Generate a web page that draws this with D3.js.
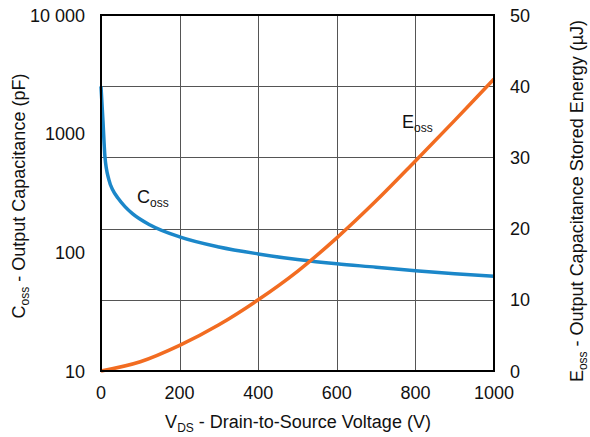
<html>
<head>
  <meta charset="utf-8">
  <script src="https://cdnjs.cloudflare.com/ajax/libs/d3/7.8.5/d3.min.js"></script>
  <style>
    body { margin: 0; background: #fff; }
    text { font-family: "Liberation Sans", Arial, sans-serif; fill: #111; }
    .grid { stroke: #555; stroke-width: 1px; }
    .frame { stroke: #000; stroke-width: 2px; fill: none; }
  </style>
</head>
<body>
  <svg width="590" height="437"></svg>
  <script>
    // capacitance (pF) vs drain voltage (V)
    var cossV = [0, 5, 10, 20, 30, 43, 61, 80, 125, 200, 300, 400, 500, 600, 700, 800, 900, 1000];
    var cossPF = [2500, 1280, 640, 410, 335, 287, 243, 212, 170, 135, 111, 97, 87, 80, 75, 70, 66, 63];
    // stored energy (uJ)
    var eossV = [0, 100, 200, 300, 400, 500, 600, 700, 800, 900, 1000];
    var eossUJ = [0, 1.3, 3.6, 6.5, 10.0, 14.0, 18.7, 23.9, 29.5, 35.2, 41.0];

    var xTicks = [0, 200, 400, 600, 800, 1000];
    var leftTicks = [10, 100, 1000, 10000];
    var leftLabels = ["10", "100", "1000", "10 000"];
    var rightTicks = [0, 10, 20, 30, 40, 50];

    var svg = d3.select("svg");
    var x = d3.scaleLinear().domain([0, 1000]).range([101, 494]);
    var yL = d3.scaleLog().domain([10, 10000]).range([371, 15]);
    var yR = d3.scaleLinear().domain([0, 50]).range([371, 15]);

    // grid
    svg.append("g").selectAll("line.v")
      .data(xTicks.slice(1, -1))
      .enter().append("line")
      .attr("class", "grid")
      .attr("x1", d => Math.round(x(d)) + 0.5).attr("x2", d => Math.round(x(d)) + 0.5)
      .attr("y1", yR(50)).attr("y2", yR(0));
    svg.append("g").selectAll("line.h")
      .data(rightTicks.slice(1, -1))
      .enter().append("line")
      .attr("class", "grid")
      .attr("y1", d => Math.round(yR(d)) + 0.5).attr("y2", d => Math.round(yR(d)) + 0.5)
      .attr("x1", x(0)).attr("x2", x(1000));

    // curves
    var cossLine = d3.line()
      .x(d => x(d[0])).y(d => yL(d[1]))
      .curve(d3.curveMonotoneX);
    svg.append("path")
      .datum(cossV.map((v, i) => [v, cossPF[i]]))
      .attr("d", cossLine)
      .attr("fill", "none").attr("stroke", "#1b87c9").attr("stroke-width", 3.5);

    var eossLine = d3.line()
      .x(d => x(d[0])).y(d => yR(d[1]))
      .curve(d3.curveCatmullRom);
    svg.append("path")
      .datum(eossV.map((v, i) => [v, eossUJ[i]]))
      .attr("d", eossLine)
      .attr("fill", "none").attr("stroke", "#f26c21").attr("stroke-width", 3.5);

    // frame
    svg.append("rect").attr("class", "frame")
      .attr("x", x(0)).attr("y", yR(50))
      .attr("width", x(1000) - x(0)).attr("height", yR(0) - yR(50));

    // tick labels
    svg.append("g").selectAll("text")
      .data(xTicks).enter().append("text")
      .attr("x", d => x(d)).attr("y", 399)
      .attr("text-anchor", "middle").attr("font-size", 18)
      .text(d => d);
    svg.append("g").selectAll("text")
      .data(leftTicks).enter().append("text")
      .attr("x", 85).attr("y", d => yL(d) + 6.5)
      .attr("text-anchor", "end").attr("font-size", 18)
      .text((d, i) => leftLabels[i]);
    svg.append("g").selectAll("text")
      .data(rightTicks).enter().append("text")
      .attr("x", 510).attr("y", d => yR(d) + 6.5)
      .attr("text-anchor", "start").attr("font-size", 18)
      .text(d => d);

    function label(g, main, sub, rest) {
      g.append("tspan").text(main);
      g.append("tspan").attr("font-size", 12).attr("dy", 4).text(sub);
      if (rest) g.append("tspan").attr("dy", -4).text(rest);
    }

    // axis titles
    var xt = svg.append("text").attr("x", 298).attr("y", 428)
      .attr("text-anchor", "middle").attr("font-size", 18);
    label(xt, "V", "DS", " - Drain-to-Source Voltage (V)");

    var lt = svg.append("text").attr("text-anchor", "middle").attr("font-size", 18)
      .attr("transform", "translate(25,196) rotate(-90)");
    label(lt, "C", "oss", " - Output Capacitance (pF)");

    var rt = svg.append("text").attr("text-anchor", "middle").attr("font-size", 18)
      .attr("transform", "translate(583,201) rotate(-90)");
    label(rt, "E", "oss", " - Output Capacitance Stored Energy (µJ)");

    // series labels
    var cl = svg.append("text").attr("x", 137).attr("y", 203).attr("font-size", 18);
    label(cl, "C", "oss");
    var el = svg.append("text").attr("x", 402).attr("y", 128).attr("font-size", 18);
    label(el, "E", "oss");
  </script>
</body>
</html>
